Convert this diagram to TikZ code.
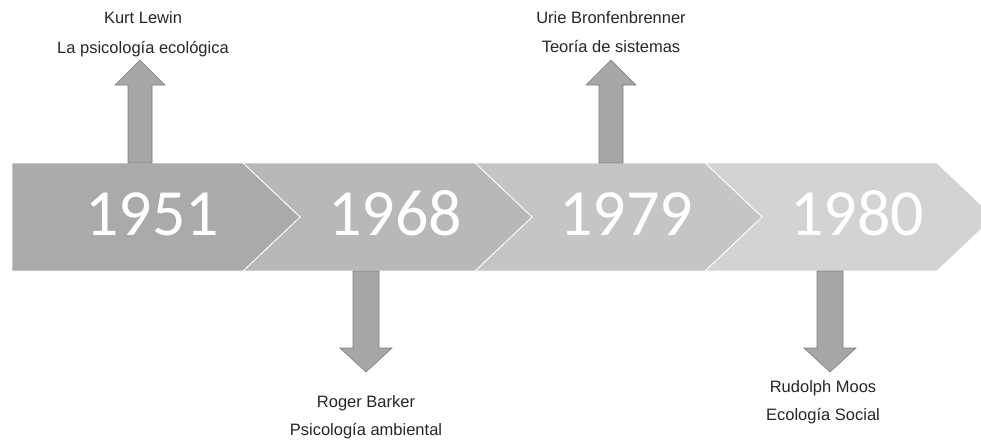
\documentclass[tikz,border=0pt]{standalone}
\usepackage{fontspec}
\setmainfont{Liberation Sans}
\newfontfamily\yearfont{Carlito}
\usetikzlibrary{positioning}
\definecolor{seg1}{RGB}{170,170,170}
\definecolor{seg2}{RGB}{184,184,184}
\definecolor{seg3}{RGB}{197,197,197}
\definecolor{seg4}{RGB}{211,211,211}
\definecolor{arrowfill}{RGB}{166,166,166}
\definecolor{arrowline}{RGB}{125,125,125}
\definecolor{whotext}{RGB}{38,38,38}
\tikzset{
    chevron/.style={draw=white, line width=0.8pt, line join=miter},
    year/.style={text=white, anchor=base, inner sep=0pt, font=\yearfont\fontsize{66}{66}\selectfont},
    who/.style={text=whotext, anchor=base, inner sep=0pt, font=\fontsize{16.5}{18}\selectfont},
    block arrow/.style={fill=arrowfill, draw=arrowline, line width=0.6pt, line join=miter},
    up block/.pic={\draw[block arrow] (-12,0) -- (-12,-78) -- (-25,-78) -- (0,-103) -- (25,-78) -- (12,-78) -- (12,0) -- cycle;},
    down block/.pic={\draw[block arrow] (-13,0) -- (-13,77) -- (-26,77) -- (0,101) -- (26,77) -- (13,77) -- (13,0) -- cycle;}
}

\begin{document}
\begin{tikzpicture}[x=1pt, y=-1pt]
    \useasboundingbox (0,0) rectangle (981,440);
    \clip (0,0) rectangle (981,440);

    % band of chevrons
    \foreach \l/\r/\col in {705/937/seg4, 475/705/seg3, 243/475/seg2}{
        \fill[\col, chevron] (\l,163) -- (\r,163) -- (\r+57,217) -- (\r,271) -- (\l,271) -- (\l+57,217) -- cycle;
    }
    \fill[seg1, chevron] (12,163) -- (243,163) -- (300,217) -- (243,271) -- (12,271) -- cycle;

    \node[year] (y1951) at (152,235) {1951};
    \node[year] (y1968) at (395,235) {1968};
    \node[year] (y1979) at (626,235) {1979};
    \node[year] (y1980) at (857,235) {1980};

    % arrows
    \pic at (140,163) {up block};
    \pic at (611,163) {up block};
    \pic at (366,271) {down block};
    \pic at (830,271) {down block};

    % labels
    \node[who] (lewin) at (143,23) {Kurt Lewin};
    \node[who] (lewintheory) at ([yshift=-30pt]lewin.base) {La psicología ecológica};
    \node[who] (bronf) at (611,23) {Urie Bronfenbrenner};
    \node[who] (bronftheory) at ([yshift=-29pt]bronf.base) {Teoría de sistemas};
    \node[who] (barker) at (366,407) {Roger Barker};
    \node[who] (barkertheory) at ([yshift=-28pt]barker.base) {Psicología ambiental};
    \node[who] (moos) at (823,392) {Rudolph Moos};
    \node[who] (moostheory) at ([yshift=-28pt]moos.base) {Ecología Social};
\end{tikzpicture}
\end{document}
